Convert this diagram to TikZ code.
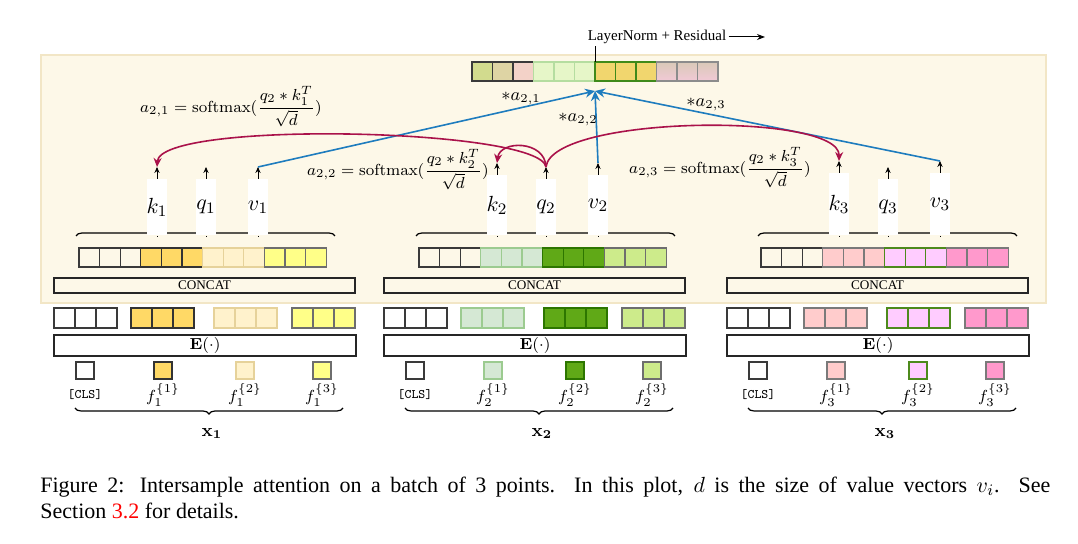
\documentclass[tikz,border=0pt]{standalone}
\usepackage[no-math]{fontspec}
\setmainfont{Liberation Serif}
\usepackage{amsmath}
\usetikzlibrary{calc}
\usetikzlibrary{arrows.meta}
\usetikzlibrary{decorations.pathreplacing}

\definecolor{bgfill}{RGB}{253,248,232}
\definecolor{bgline}{RGB}{242,230,198}
\definecolor{attred}{RGB}{170,18,74}
\definecolor{attblue}{RGB}{30,124,190}
\definecolor{cls}{HTML}{3A3A3A}
\definecolor{fa1}{HTML}{FFD966}\definecolor{da1}{HTML}{333333}
\definecolor{fb1}{HTML}{FFF2CC}\definecolor{db1}{HTML}{E6D29A}
\definecolor{fc1}{HTML}{FFFF88}\definecolor{dc1}{HTML}{6E6E6E}
\definecolor{fa2}{HTML}{D5E8D4}\definecolor{da2}{HTML}{9CCB90}
\definecolor{fb2}{HTML}{60A917}\definecolor{db2}{HTML}{2D7600}
\definecolor{fc2}{HTML}{CDEB8B}\definecolor{dc2}{HTML}{6E6E6E}
\definecolor{fa3}{HTML}{FFCCCC}\definecolor{da3}{HTML}{7A7A7A}
\definecolor{fb3}{HTML}{FFCCFF}\definecolor{db3}{HTML}{4D8A1C}
\definecolor{fc3}{HTML}{FF99CC}\definecolor{dc3}{HTML}{7A7A7A}
% top (mixed) vector
\definecolor{tva}{HTML}{D2DB8E}
\definecolor{tvb}{HTML}{DED4A4}
\definecolor{tvc}{HTML}{F3D2C8}
\definecolor{tvd}{HTML}{E6F6C8}\definecolor{tvdl}{HTML}{B5DDA0}
\definecolor{tve}{HTML}{F1D66E}\definecolor{tvel}{HTML}{3F8A1A}
\definecolor{tvft}{HTML}{D9C9B8}\definecolor{tvfb}{HTML}{F2C9D6}

\tikzset{
  vcell/.style={line width=0.6pt},
  kqvbox/.style={fill=white, minimum width=10pt, inner sep=0pt, font=\fontsize{11}{13}\selectfont},
  wordbox/.style={draw=black!85, line width=0.6pt, inner sep=0pt},
  featsq/.style={line width=1.3pt, minimum width=9pt, minimum height=8.5pt, inner sep=0pt},
  tinyarr/.style={-{Stealth[length=3pt,width=2.6pt]}, line width=0.4pt},
  attn/.style={attred, line width=0.8pt, -{Stealth[length=4.5pt,width=4pt]}},
  wsum/.style={attblue, line width=0.8pt, -{Stealth[length=5pt,width=4.5pt]}},
  topbrace/.style={decorate, decoration={brace, amplitude=3pt}, line width=0.6pt},
  botbrace/.style={decorate, decoration={brace, amplitude=3pt, mirror}, line width=0.6pt},
  smx/.style={font=\fontsize{8}{10}\selectfont, inner sep=0pt},
}

\begin{document}
\begin{tikzpicture}[x=0.5pt,y=-0.5pt]
\fill[white] (0,0) rectangle (1078,544);
\useasboundingbox (0,0) rectangle (1078,544);

% attention block
\draw[draw=bgline, fill=bgfill, line width=0.8pt] (41,55) rectangle (1046,303);

% mixed output vector
\foreach \i/\fc/\dc in {0/tva/cls,1/tvb/cls,2/tvc/cls,3/tvd/tvdl,4/tvd/tvdl,5/tvd/tvdl,6/tve/tvel,7/tve/tvel,8/tve/tvel}
  \draw[vcell,fill=\fc,draw=\dc] ({472+\i*20.5},62) rectangle ++(20.5,19);
\foreach \i in {9,10,11}
  \draw[vcell,top color=tvft,bottom color=tvfb,draw=black!45] ({472+\i*20.5},62) rectangle ++(20.5,19);
\coordinate (tvtop) at (595,62);
\coordinate (agg) at (595,91);
\coordinate (lnout) at (765,37);
\node[font=\fontsize{7.5}{9}\selectfont, inner sep=1pt] (ln) at (657,37) {LayerNorm + Residual};
\draw[line width=0.5pt] (tvtop) -- (ln.south -| tvtop);
\draw[-{Stealth[length=4pt,width=3pt]}, line width=0.5pt] (ln.east) -- (lnout);

\foreach \c/\ux/\lx/\ky in {1/0/0/179, 2/340/330/175, 3/682/673/173} {
  % concatenated embeddings
  \foreach \g/\fc/\dc in {0/bgfill/cls,1/fa\c/da\c,2/fb\c/db\c,3/fc\c/dc\c}
    \foreach \j in {0,1,2}
      \draw[vcell,fill=\fc,draw=\dc] ({79+\ux+(3*\g+\j)*20.6},248) rectangle ++(20.6,19);
  \draw[topbrace] (76+\ux,236) -- (335+\ux,236);
  \node[wordbox, minimum width=150.5pt, minimum height=7.5pt, font=\fontsize{6.6}{8}\selectfont] (cc\c) at (204.5+\lx,285.5) {CONCAT};
  % embeddings
  \foreach \gx/\fc/\dc in {54/white/cls,131/fa\c/da\c,214/fb\c/db\c,292/fc\c/dc\c}
    \foreach \j in {0,1,2}
      \draw[vcell,fill=\fc,draw=\dc] ({\gx+\lx+\j*21},308) rectangle ++(21,20);
  \node[wordbox, fill=white, minimum width=151pt, minimum height=10.5pt, font=\fontsize{8.5}{10}\selectfont] (emb\c) at (205+\lx,345.5) {$\mathbf{E}(\cdot)$};
  % features
  \foreach \sx/\fc/\dc/\lab in {85/white/cls/{\fontsize{6.5}{8}\selectfont\texttt{[CLS]}},
      163/fa\c/da\c/{$f_\c^{\{1\}}$},245/fb\c/db\c/{$f_\c^{\{2\}}$},322/fc\c/dc\c/{$f_\c^{\{3\}}$}} {
    \node[featsq, fill=\fc, draw=\dc] (s\c\sx) at (\sx+\lx,370.5) {};
    \node[font=\footnotesize, inner sep=0pt] (l\c\sx) at (\sx+\lx,395) {\lab};
  }
  \draw[botbrace] (75+\lx,408) -- (343+\lx,408);
  \node[font=\small] (x\c) at (212+\lx,434) {$\mathbf{x_\c}$};
  % keys, queries, values
  \node[kqvbox, anchor=north, minimum height={(235-\ky)/2*1pt}] (k\c) at (157+\ux,\ky) {$k_\c$};
  \node[kqvbox, anchor=north, minimum height=28pt] (q\c) at (206+\ux,179) {$q_\c$};
  \node[kqvbox, anchor=north, minimum height={(235-\ky)/2*1pt}] (v\c) at (258+\ux,\ky) {$v_\c$};
  \foreach \n in {k,q,v} {
    \draw[line width=0.4pt] (\n\c.south) -- (\n\c.south |- 0,236);
    \coordinate (\n t\c) at ($(\n\c.north)+(0,-12)$);
    \draw[tinyarr] (\n\c.north) -- (\n t\c);
  }
}

% weighted sum of values
\draw[wsum] (vt1) -- (agg);
\draw[wsum] (vt2) -- (agg);
\draw[wsum] (vt3) -- (agg);
\node[font=\small] (w1) at (521,98) {$*a_{2,1}$};
\node[font=\small] (w2) at (578,119) {$*a_{2,2}$};
\node[font=\small] (w3) at (706,104) {$*a_{2,3}$};

% query 2 against all keys
\draw[attn] (qt2) .. controls (540,128) and (160,120) .. (kt1);
\draw[attn] (qt2) .. controls (545,140) and (500,140) .. (kt2);
\draw[attn] (qt2) .. controls (552,115) and (840,112) .. (kt3);
\node[smx] (sm1) at (231,107) {$a_{2,1} = \mathrm{softmax}(\dfrac{q_2 * k_1^T}{\sqrt{d}})$};
\node[smx] (sm2) at (398,170) {$a_{2,2} = \mathrm{softmax}(\dfrac{q_2 * k_2^T}{\sqrt{d}})$};
\node[smx] (sm3) at (720,168) {$a_{2,3} = \mathrm{softmax}(\dfrac{q_2 * k_3^T}{\sqrt{d}})$};

% caption
\node[anchor=west, inner sep=0pt, font=\fontsize{11}{13}\selectfont] (cap1) at (40,487) {\makebox[505pt][s]{Figure 2: Intersample attention on a batch of 3 points.\ \ In this plot, $d$ is the size of value vectors $v_i$.\ \ See}};
\node[anchor=west, inner sep=0pt, font=\fontsize{11}{13}\selectfont] (cap2) at (40,511) {Section \textcolor{red}{3.2} for details.};
\end{tikzpicture}
\end{document}
